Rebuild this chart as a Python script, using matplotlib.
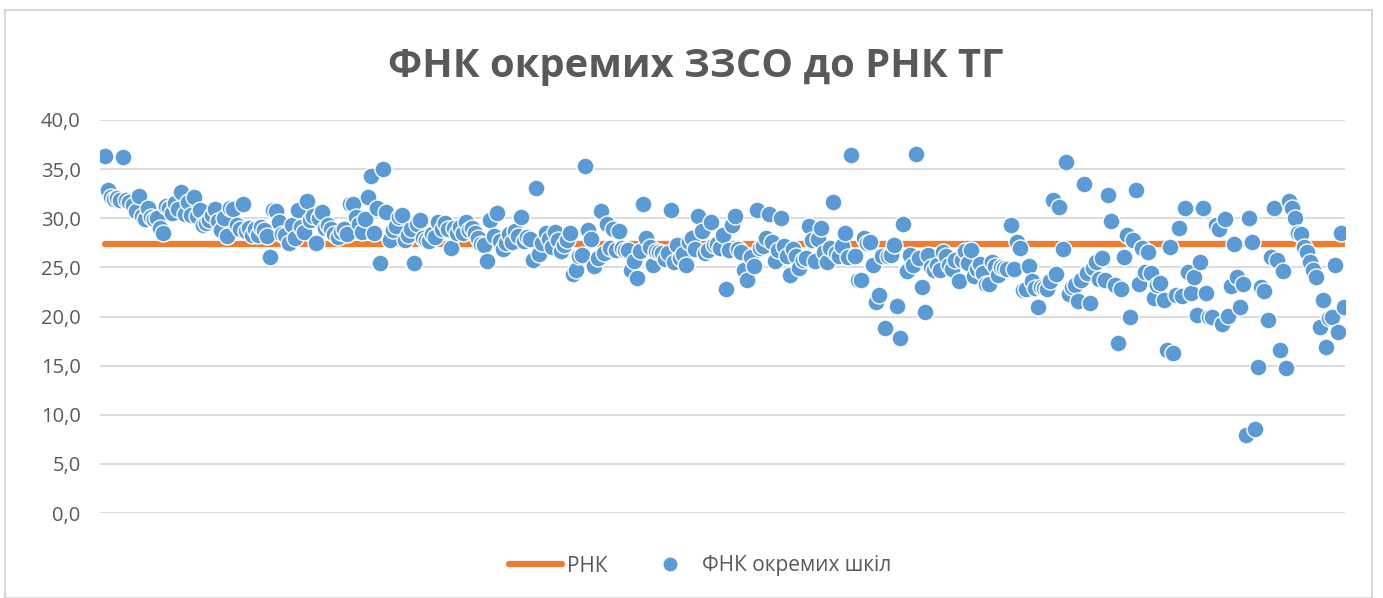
import matplotlib
matplotlib.use("Agg")
import matplotlib.pyplot as plt
from matplotlib.patches import Rectangle
from matplotlib.lines import Line2D
import numpy as np

title = "ФНК окремих ЗЗСО до РНК ТГ"
series_line_name = "РНК"
series_pts_name = "ФНК окремих шкіл"
rnk_value = 27.4
y_ticks = [0, 5, 10, 15, 20, 25, 30, 35, 40]

fnk_values = [
    36.3, 32.9, 32.2, 32.0, 32.1, 31.9, 36.2, 31.9, 31.7, 31.3, 30.7, 32.3, 30.2, 29.9, 31.0,
    30.1, 29.9, 30.0, 29.0, 28.5, 31.2, 31.0, 30.5, 31.6, 30.9, 32.7, 30.4, 31.7, 30.3, 32.2,
    30.2, 30.8, 29.3, 29.5, 29.8, 30.3, 30.9, 29.7, 28.8, 30.0, 28.2,
    31.0, 30.9, 29.3, 28.9, 31.5, 28.7, 29.0, 28.3, 28.9, 28.3, 29.1, 28.8, 28.2, 26.1, 30.8,
    30.7, 29.6, 28.4, 28.3, 27.5, 29.3, 28.0, 30.8, 29.1, 28.6, 31.8, 29.8, 30.2, 27.5, 30.0,
    30.6, 29.0, 29.3, 28.9, 28.4, 28.1, 28.6, 28.9, 28.4, 31.4, 31.5, 30.1, 29.4, 28.6, 29.9,
    32.2, 34.3, 28.5, 31.0, 25.4, 35.0, 30.6, 27.8, 28.8, 29.2, 30.1, 30.3, 27.8, 28.3, 28.9,
    25.4, 29.4, 29.8, 28.0, 27.8, 27.7, 28.4, 28.1, 29.6, 28.9, 29.5, 28.9, 27.0, 29.0, 28.5,
    29.1, 28.5, 29.6, 28.8, 29.0, 28.5, 28.0, 27.4, 27.3, 25.6, 29.8, 28.2, 30.5, 27.7, 26.9,
    27.5, 28.4, 27.6, 28.7, 28.2, 30.1, 27.7, 28.1, 27.9, 25.8, 33.1, 26.4, 27.5, 28.5,
    27.9, 27.1, 28.6, 27.8, 26.7, 27.3, 27.8, 28.5, 24.3, 24.7, 26.2, 26.3, 35.3, 28.8, 27.9,
    25.1, 26.0, 30.7, 26.5, 29.4, 27.0, 28.9, 26.8, 28.7, 27.0, 26.8, 26.8, 24.7, 25.6, 23.9,
    26.7, 31.5, 28.0, 27.1, 25.2, 26.7, 26.6, 26.5, 25.9, 26.5, 30.8, 25.5, 27.3, 26.0, 26.4,
    25.2, 27.6, 28.0, 26.9, 30.2, 28.7, 26.5, 26.8, 29.6, 27.3, 27.4, 27.0, 28.3, 22.8, 26.8,
    29.3, 30.2, 26.9, 26.6, 24.7, 23.7, 26.1, 25.1, 30.8, 27.0, 27.2, 28.0, 30.4, 27.6, 25.6,
    26.8, 30.0, 27.2, 26.2, 24.2, 26.9, 26.2, 24.9, 25.7, 26.0, 29.2, 27.8, 25.6, 27.9, 29.0,
    26.6, 25.5, 27.0, 31.7, 26.5, 26.2, 27.2, 28.5, 26.1, 36.4, 26.2, 23.7, 23.7, 28.0, 27.5,
    27.6, 25.2, 21.5, 22.2, 26.2, 18.8, 26.2, 26.3, 27.3, 21.1, 17.8, 29.4, 24.6, 26.3, 25.2,
    36.5, 26.0, 23.0, 20.5, 26.3, 25.0, 24.7, 25.2, 24.7, 26.6, 26.2, 25.2, 24.8, 25.8, 23.6,
    25.8, 26.7, 25.4, 26.8, 24.1, 24.8, 25.3, 24.4, 23.3, 23.3, 25.5, 25.1, 24.2, 25.0, 24.9,
    24.8, 29.3, 24.8, 27.6, 27.0, 22.7, 22.8, 25.1, 23.6, 22.9, 21.0, 23.0, 22.9, 22.8, 23.6,
    31.9, 24.3, 31.1, 26.9, 35.7, 22.3, 23.0, 23.2, 21.6, 23.7, 33.5, 24.4, 21.4, 24.9, 25.5,
    23.8, 26.0, 23.7, 32.4, 29.7, 23.2, 17.3, 22.8, 26.1, 28.3, 19.9, 27.8, 32.9, 23.3, 27.0,
    24.5, 26.6, 24.4, 21.9, 23.2, 23.4, 21.7, 16.6, 27.1, 16.3, 22.2, 29.0, 22.1, 31.0, 24.5,
    22.4, 24.0, 20.2, 25.5, 31.0, 22.4, 20.0, 19.9, 29.3, 28.9, 19.2, 29.9, 20.1, 23.1, 27.4,
    24.0, 21.0, 23.3, 7.9, 30.0, 27.6, 8.6, 14.9, 23.0, 22.6, 19.6, 26.1, 31.0, 25.7, 16.6,
    24.6, 14.8, 31.8, 31.0, 30.0, 28.5, 28.4, 27.1, 26.6, 25.5, 24.7, 24.0, 18.9, 21.7, 16.9,
    19.8, 20.0, 25.2, 18.4, 28.5, 21.0,
]

N = len(fnk_values)
x = np.arange(1, N + 1)

W, H = 1383, 598
fig = plt.figure(figsize=(W / 100, H / 100), dpi=100)
fig.patch.set_facecolor("white")

# chart frame
fig.patches.append(Rectangle((5 / W, 0), (1372 - 5) / W, (H - 10) / H,
                             transform=fig.transFigure, fill=False,
                             edgecolor="#d0d0d0", linewidth=1.2))

ax_l, ax_r, ax_t, ax_b = 100, 1345, 120, 513
ax = fig.add_axes([ax_l / W, 1 - ax_b / H, (ax_r - ax_l) / W, (ax_b - ax_t) / H])

# x scaling so first point at px 105 and last at px 1344
ppu = (1344 - 105) / (N - 1)
ax.set_xlim(1 - (105 - ax_l) / ppu, N + (ax_r - 1344) / ppu)
ax.set_ylim(0, 40)

grey = "#595959"
ax.set_yticks(y_ticks)
ax.set_yticklabels([f"{v:.1f}".replace(".", ",") for v in y_ticks])
ax.tick_params(axis="y", length=0, pad=14, labelsize=14.5, labelcolor=grey)
ax.tick_params(axis="x", length=0, labelbottom=False)
for lab in ax.get_yticklabels():
    lab.set_fontfamily("Open Sans")
ax.grid(axis="y", color="#d9d9d9", linewidth=1.3)
ax.set_axisbelow(True)
for s in ax.spines.values():
    s.set_visible(False)

ax.plot(x, np.full(N, rnk_value), color="#ED7D31", linewidth=4.5,
        solid_capstyle="round", zorder=2)
ax.scatter(x, fnk_values, s=150, color="#5B9BD5", edgecolors="white",
           linewidths=1.0, zorder=3)

fig.text(0.503, 1 - 66 / H, title, ha="center", va="center", fontsize=28.7,
         fontweight="bold", color=grey, family="Open Sans")

handles = [
    Line2D([], [], color="#ED7D31", linewidth=4.5, solid_capstyle="round"),
    Line2D([], [], color="#5B9BD5", marker="o", linestyle="none", markersize=9),
]
leg = fig.legend(handles, [series_line_name, series_pts_name], loc="center",
                 bbox_to_anchor=(0.506, 1 - 566 / H), ncol=2, frameon=False,
                 prop={"family": "Open Sans", "size": 15}, handlelength=2.55,
                 handletextpad=0.25, columnspacing=1.7)
for t in leg.get_texts():
    t.set_color(grey)

fig.savefig("out.png", dpi=100, facecolor="white")
